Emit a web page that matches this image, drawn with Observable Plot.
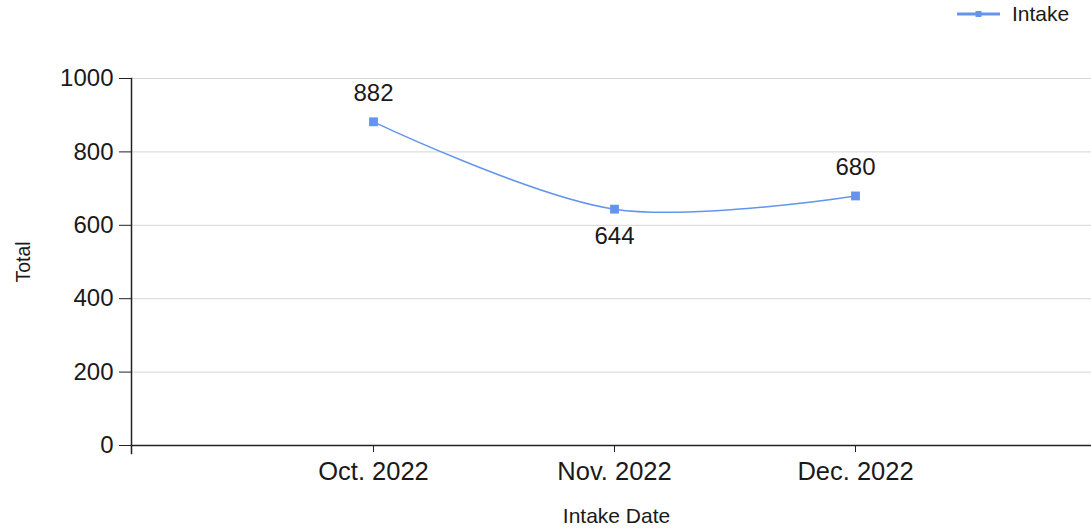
<!DOCTYPE html>
<html><head><meta charset="utf-8">
<script src="https://cdn.jsdelivr.net/npm/d3@7"></script>
<script src="https://cdn.jsdelivr.net/npm/@observablehq/plot@0.6"></script>
<style>
body{margin:0;background:#fff;font-family:"Liberation Sans",Arial,sans-serif;overflow:hidden;}
#legend{height:30px;position:relative;}
#legend .item{position:absolute;left:957px;top:3px;display:flex;align-items:center;font-size:21px;line-height:22px;color:#1a1a1a;}
#legend svg{display:block;margin-right:12px;}
#chart svg{display:block;}
</style></head><body>
<div id="legend"></div><div id="chart"></div>
<script>
const months = ["Oct. 2022", "Nov. 2022", "Dec. 2022"];
const intake = [882, 644, 680];
const yTicks = [0, 200, 400, 600, 800, 1000];
const seriesName = "Intake";
const xLabel = "Intake Date";
const yLabel = "Total";

const color = "#6495ed";
const data = months.map((m, i) => ({
  month: m,
  value: intake[i],
  below: i > 0 && i < intake.length - 1 && intake[i] < intake[i - 1] && intake[i] < intake[i + 1]
}));

// legend
const leg = document.createElement("div");
leg.className = "item";
leg.innerHTML = `<svg width="43" height="10"><line x1="0" x2="43" y1="5" y2="5" stroke="${color}" stroke-width="3"/><rect x="18.5" y="2" width="6" height="6" fill="${color}"/></svg><span>${seriesName}</span>`;
document.getElementById("legend").appendChild(leg);

const chart = Plot.plot({
  width: 1091,
  height: 499,
  marginTop: 48,
  marginBottom: 84,
  marginLeft: 131,
  marginRight: 0,
  style: {fontFamily: "Liberation Sans, Arial, sans-serif", fontSize: "24px", color: "#1a1a1a", background: "#fff", overflow: "visible"},
  x: {type: "point", domain: months, range: [132, 1096], padding: 1, label: null},
  y: {domain: [0, 1000], label: null},
  marks: [
    Plot.gridY(yTicks, {stroke: "#d6d6d6", strokeOpacity: 1}),
    Plot.axisY(yTicks, {tickSize: 12, tickPadding: 6, stroke: "#222", fontSize: 24, tickFormat: "d", label: null}),
    Plot.axisX({tickSize: 7, tickPadding: 9, stroke: "#222", fontSize: 25.5, label: null}),
    Plot.frame({anchor: "left", stroke: "#222", strokeWidth: 1.5, insetBottom: -8}),
    Plot.frame({anchor: "bottom", stroke: "#222", strokeWidth: 1.5}),
    Plot.line(data, {x: "month", y: "value", stroke: color, strokeWidth: 1.5, curve: "catmull-rom"}),
    Plot.dot(data, {x: "month", y: "value", symbol: "square", r: 5, fill: color, stroke: null}),
    Plot.text(data.filter(d => !d.below), {x: "month", y: "value", text: d => String(d.value), dy: -28.5, fontSize: 24, fill: "#1a1a1a"}),
    Plot.text(data.filter(d => d.below), {x: "month", y: "value", text: d => String(d.value), dy: 27, fontSize: 24, fill: "#1a1a1a"}),
    Plot.text([yLabel], {frameAnchor: "left", textAnchor: "middle", lineAnchor: "middle", dx: -108, rotate: -90, fontSize: 19.5, fill: "#1a1a1a"}),
    Plot.text([xLabel], {frameAnchor: "bottom", dx: 5, dy: 77, fontSize: 21, fill: "#1a1a1a"})
  ]
});
document.getElementById("chart").appendChild(chart);
</script>
</body></html>
